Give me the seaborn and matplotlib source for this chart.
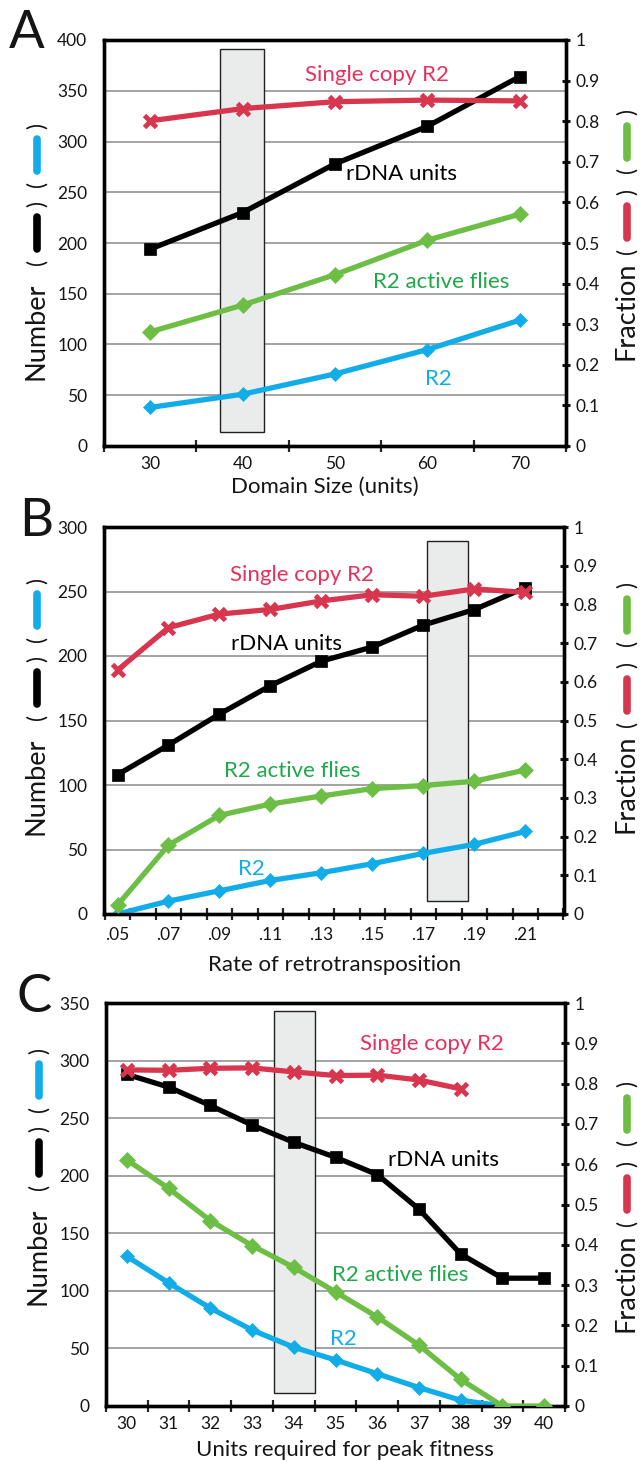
import numpy as np
import pandas as pd
import matplotlib
matplotlib.use("Agg")
import matplotlib.pyplot as plt
from matplotlib.lines import Line2D
from matplotlib.patches import Rectangle
import seaborn as sns

# ---------------- data ----------------
# Panel A
a_domain = [30, 40, 50, 60, 70]
a_rdna = [194, 230, 278, 315, 364]
a_r2 = [38, 51, 71, 95, 124]
a_active = [0.281, 0.347, 0.422, 0.507, 0.571]
a_single = [0.801, 0.831, 0.848, 0.852, 0.850]

# Panel B
b_rate = [0.05, 0.07, 0.09, 0.11, 0.13, 0.15, 0.17, 0.19, 0.21]
b_rate_labels = [".05", ".07", ".09", ".11", ".13", ".15", ".17", ".19", ".21"]
b_rdna = [108, 131, 155, 177, 196, 207, 224, 236, 253]
b_r2 = [0, 10, 18, 26, 32, 39, 47, 54, 64]
b_active = [0.023, 0.178, 0.255, 0.284, 0.305, 0.324, 0.332, 0.343, 0.372]
b_single = [0.630, 0.740, 0.775, 0.787, 0.809, 0.825, 0.821, 0.840, 0.831]

# Panel C
c_units = [30, 31, 32, 33, 34, 35, 36, 37, 38, 39, 40]
c_rdna = [288, 277, 261, 244, 229, 216, 201, 171, 132, 111, 111]
c_r2 = [130, 107, 85, 66, 51, 40, 28, 16, 5, 0]
c_active = [0.611, 0.540, 0.460, 0.398, 0.344, 0.283, 0.221, 0.151, 0.066, 0.0, 0.0]
c_single = [0.834, 0.833, 0.838, 0.839, 0.829, 0.820, 0.821, 0.809, 0.787]

# highlighted regions (x0, x1, y0, y1) in data units
a_box = (37.5, 42.3, 14, 391)
b_box = (0.1716, 0.1874, 10, 289)
c_box = (33.53, 34.52, 11, 343)

# ---------------- style ----------------
sns.set_theme(style="white")
plt.rcParams["font.family"] = ["Lato", "DejaVu Sans"]

BLUE = "#12ADE8"
BLACK = "#000000"
GREEN = "#6DBE45"
RED = "#D8364F"
GREEN_T = "#1FA84A"
RED_T = "#E8305C"
TXT = "#151515"
LBL = 16
TICK = 12.5

W, H = 642, 1462
fig = plt.figure(figsize=(W / 100, H / 100), dpi=100)
renderer = fig.canvas.get_renderer()


def fx(px):
    return px / W


def fy(py):
    return 1 - py / H


def make_axes(left, right, top, bottom):
    return fig.add_axes([fx(left), fy(bottom), fx(right) - fx(left), (bottom - top) / H])


def draw_panel(ax, x, rdna, r2, active, single, ymax, box):
    ax2 = ax.twinx()
    ax.set_ylim(0, ymax)
    ax2.set_ylim(0, 1)
    ax.set_yticks(np.arange(0, ymax + 1, 50))
    ax2.set_yticks(np.round(np.arange(0, 1.01, 0.1), 1))
    ax2.set_yticklabels(["0"] + [f"{v:.1f}" for v in np.arange(0.1, 0.95, 0.1)] + ["1"])
    ax.yaxis.grid(True, color="#8a8a8a", lw=1.1)
    ax.set_axisbelow(True)
    x0, x1, y0, y1 = box
    ax.add_patch(Rectangle((x0, y0), x1 - x0, y1 - y0, facecolor="#E9ECEB",
                           edgecolor="#222222", lw=1.0, zorder=1.5))
    lw = 3.8
    sns.lineplot(x=x[:len(rdna)], y=rdna, ax=ax, color=BLACK, lw=lw, marker="s",
                 markersize=8.5, mec=BLACK, mew=0.5, zorder=3)
    sns.lineplot(x=x[:len(r2)], y=r2, ax=ax, color=BLUE, lw=lw, marker="D",
                 markersize=7.5, mec=BLUE, mew=0.5, zorder=3)
    sns.lineplot(x=x[:len(active)], y=active, ax=ax2, color=GREEN, lw=lw, marker="D",
                 markersize=8, mec=GREEN, mew=0.5, zorder=3)
    sns.lineplot(x=x[:len(single)], y=single, ax=ax2, color=RED, lw=lw, marker="x",
                 markersize=8, mec=RED, mew=3.5, zorder=3)
    for a in (ax, ax2):
        for s in a.spines.values():
            s.set_color("black")
            s.set_linewidth(2.4)
        a.set_xlabel("")
        a.set_ylabel("")
    ax.tick_params(axis="y", left=False, labelsize=TICK, pad=6, colors=TXT)
    ax2.tick_params(axis="y", right=True, direction="inout", length=6, width=2.2,
                    labelsize=TICK, pad=4, colors=TXT)
    ax.tick_params(axis="x", which="major", bottom=True, direction="inout", length=8,
                   width=1.6, labelbottom=False)
    ax.tick_params(axis="x", which="minor", bottom=False, length=0, labelsize=TICK,
                   pad=7, colors=TXT)
    return ax2


def side_label(xc, yc, word, parts, offsets, size=19.5):
    t = fig.text(fx(xc), fy(yc), word, rotation=90, ha="center", va="center",
                 fontsize=size, color=TXT)
    ext = t.get_window_extent(renderer)
    top = yc - ext.height / 2
    for p, off in zip(parts, offsets):
        yy = top - off
        if p in ("(", ")"):
            fig.text(fx(xc + 1), fy(yy), p, rotation=90, ha="center", va="center",
                     fontsize=size - 3, color=TXT)
        else:
            fig.add_artist(Line2D([fx(xc + 1), fx(xc + 1)], [fy(yy + 16), fy(yy - 16)],
                                  transform=fig.transFigure, color=p, lw=5.5,
                                  solid_capstyle="round"))


# ---------------- Panel A ----------------
axA = make_axes(104, 566, 40, 446)
axA2 = draw_panel(axA, a_domain, a_rdna, a_r2, a_active, a_single, 400, a_box)
axA.set_xlim(25, 75)
axA.set_xticks(np.arange(25, 76, 10))
axA.set_xticks(a_domain, minor=True)
axA.set_xticklabels([str(v) for v in a_domain], minor=True)
axA.text(54.5, 366, "Single copy R2", color=RED_T, fontsize=LBL, ha="center", va="center")
axA.text(57.2, 268, "rDNA units", color=BLACK, fontsize=LBL, ha="center", va="center")
axA.text(61.5, 162, "R2 active flies", color=GREEN_T, fontsize=LBL, ha="center", va="center")
axA.text(61.2, 66, "R2", color=BLUE, fontsize=LBL, ha="center", va="center")
fig.text(fx(325), fy(487), "Domain Size (units)", ha="center", va="center", fontsize=16,
         color=TXT)
fig.text(fx(27), fy(33), "A", ha="center", va="center", fontsize=38, color=TXT)

# ---------------- Panel B ----------------
axB = make_axes(104, 564, 527, 914)
axB2 = draw_panel(axB, b_rate, b_rdna, b_r2, b_active, b_single, 300, b_box)
axB.set_xlim(0.0447, 0.2252)
axB.set_xticks(np.arange(0.045, 0.2251, 0.01))
axB.set_xticks(b_rate, minor=True)
axB.set_xticklabels(b_rate_labels, minor=True)
axB.tick_params(axis="x", which="minor", pad=9)
axB.text(0.1222, 263, "Single copy R2", color=RED_T, fontsize=LBL, ha="center", va="center")
axB.text(0.1165, 209, "rDNA units", color=BLACK, fontsize=LBL, ha="center", va="center")
axB.text(0.1186, 111, "R2 active flies", color=GREEN_T, fontsize=LBL, ha="center", va="center")
axB.text(0.1026, 35, "R2", color=BLUE, fontsize=LBL, ha="center", va="center")
fig.text(fx(335), fy(965), "Rate of retrotransposition", ha="center", va="center",
         fontsize=16, color=TXT)
fig.text(fx(36), fy(521), "B", ha="center", va="center", fontsize=38, color=TXT)

# ---------------- Panel C ----------------
axC = make_axes(106, 565, 1003, 1406)
axC2 = draw_panel(axC, c_units, c_rdna, c_r2, c_active, c_single, 350, c_box)
axC.set_xlim(29.5, 40.5)
axC.set_xticks(np.arange(29.5, 40.6, 1))
axC.set_xticks(c_units, minor=True)
axC.set_xticklabels([str(v) for v in c_units], minor=True)
axC.text(37.3, 314, "Single copy R2", color=RED_T, fontsize=LBL, ha="center", va="center")
axC.text(37.6, 214, "rDNA units", color=BLACK, fontsize=LBL, ha="center", va="center")
axC.text(36.55, 114, "R2 active flies", color=GREEN_T, fontsize=LBL, ha="center", va="center")
axC.text(35.2, 58, "R2", color=BLUE, fontsize=LBL, ha="center", va="center")
fig.text(fx(345), fy(1450), "Units required for peak fitness", ha="center", va="center",
         fontsize=16, color=TXT)
fig.text(fx(34), fy(998), "C", ha="center", va="center", fontsize=38, color=TXT)

# ---------------- side labels ----------------
left_parts = ["(", BLACK, ")", "(", BLUE, ")"]
left_off = [20, 49, 78, 98, 127, 156]
right_parts = ["(", RED, ")", "(", GREEN, ")"]
right_off = [11, 40, 70, 92, 120, 150]

side_label(36, 331, "Number", left_parts, left_off)
side_label(36, 786, "Number", left_parts, left_off)
side_label(38, 1256, "Number", left_parts, left_off)
side_label(626, 311, "Fraction", right_parts, right_off)
side_label(626, 784, "Fraction", right_parts, right_off)
side_label(626, 1283, "Fraction", right_parts, right_off)

fig.savefig("out.png", dpi=100)
